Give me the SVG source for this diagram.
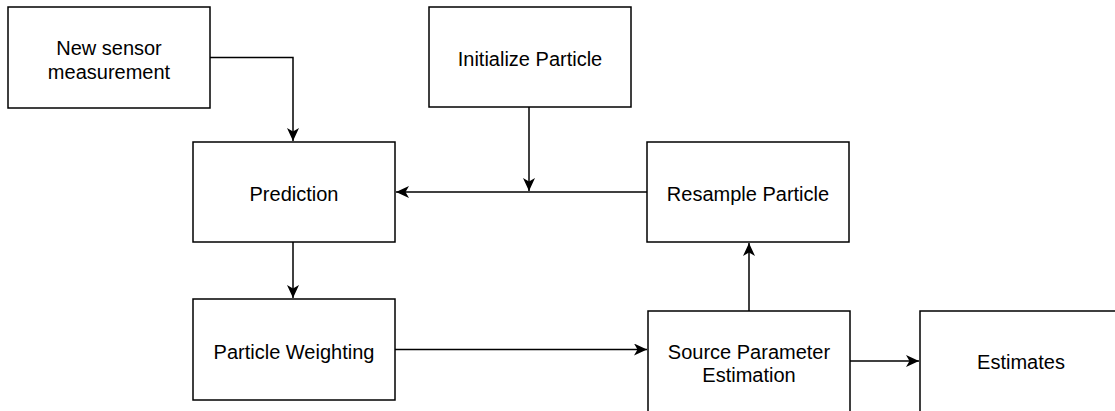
<svg xmlns="http://www.w3.org/2000/svg" width="1115" height="411" viewBox="0 0 1115 411">
<style>
.box{fill:#fff;stroke:#000;stroke-width:1.5}
.lbl{font-family:"Liberation Sans",Arial,sans-serif;font-size:20px;fill:#000;text-anchor:middle}
.con{fill:none;stroke:#000;stroke-width:1.5}
</style>
<defs>
<marker id="arr" viewBox="0 0 13 12" refX="13" refY="6" markerWidth="13" markerHeight="12" markerUnits="userSpaceOnUse" orient="auto">
<path d="M0,0 L13,6 L0,12 L3.5,6 Z" fill="#000"/>
</marker>
</defs>
<rect width="1115" height="411" fill="#fff"/>
<g id="connectors">
<path class="con" d="M210,57.5 H293 V141" marker-end="url(#arr)"/>
<path class="con" d="M293,242 V298" marker-end="url(#arr)"/>
<path class="con" d="M529,107 V191" marker-end="url(#arr)"/>
<path class="con" d="M647,192 H396" marker-end="url(#arr)"/>
<path class="con" d="M395,349.5 H647" marker-end="url(#arr)"/>
<path class="con" d="M749,311 V243" marker-end="url(#arr)"/>
<path class="con" d="M850,361 H919" marker-end="url(#arr)"/>
</g>
<g id="new-sensor">
<rect class="box" x="8" y="7" width="202" height="101"/>
<text class="lbl" x="109" y="55">New sensor</text>
<text class="lbl" x="109" y="78.5">measurement</text>
</g>
<g id="initialize">
<rect class="box" x="429" y="7" width="202" height="100"/>
<text class="lbl" x="530" y="66">Initialize Particle</text>
</g>
<g id="prediction">
<rect class="box" x="193" y="142" width="202" height="100"/>
<text class="lbl" x="294" y="201">Prediction</text>
</g>
<g id="resample">
<rect class="box" x="647" y="142" width="202" height="100"/>
<text class="lbl" x="748" y="201">Resample Particle</text>
</g>
<g id="weighting">
<rect class="box" x="193" y="299" width="202" height="101"/>
<text class="lbl" x="294" y="358.5">Particle Weighting</text>
</g>
<g id="source">
<rect class="box" x="648" y="311" width="202" height="101"/>
<text class="lbl" x="749" y="358.5">Source Parameter</text>
<text class="lbl" x="749" y="382">Estimation</text>
</g>
<g id="estimates">
<rect class="box" x="920" y="311" width="202" height="101"/>
<text class="lbl" x="1021" y="368.5">Estimates</text>
</g>
</svg>
